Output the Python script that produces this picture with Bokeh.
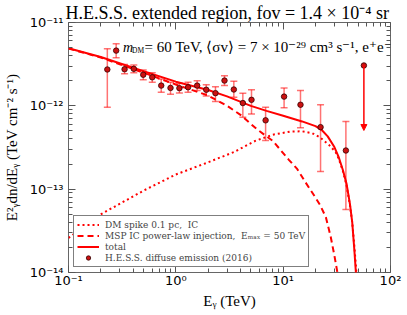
import numpy as np
from bokeh.plotting import figure
from bokeh.models import (ColumnDataSource, Whisker, TeeHead, Arrow, NormalHead, Legend,
                          LegendItem, Label, LogAxis, CustomJSTickFormatter, Range1d, FixedTicker)
from bokeh.embed import file_html
from bokeh.resources import INLINE

# ---------------- data ----------------
dm_e = [0.1, 0.2, 0.5, 1, 2, 3.5, 5.5, 8, 11.5, 15, 18.6, 22, 26.7, 30.8, 33, 36, 39, 42, 44, 46, 48, 50]
dm_y = [2.6e-14, 5.0e-14, 9.6e-14, 1.5e-13, 2.1e-13, 2.8e-13, 3.8e-13, 4.5e-13, 4.9e-13, 4.95e-13,
        4.7e-13, 4.2e-13, 3.4e-13, 2.8e-13, 2.3e-13, 1.65e-13, 1.1e-13, 6.3e-14, 4.0e-14, 2.1e-14,
        1.05e-14, 5e-15]

msp_e = [0.1, 0.2, 0.5, 1, 2, 3, 4, 5.73, 8, 11.3, 13.5, 16.2, 19.3, 22, 25, 27.7, 30, 32, 33.5]
msp_y = [4.87e-12, 3.8e-12, 2.5e-12, 1.8e-12, 1.33e-12, 1.0e-12, 7.8e-13, 5.2e-13, 3.8e-13,
         2.25e-13, 1.75e-13, 1.2e-13, 8.5e-14, 6.5e-14, 4.6e-14, 2.7e-14, 1.6e-14, 1.0e-14, 6e-15]

tot_e = [0.1, 0.2, 0.5, 1, 2, 3, 5, 7, 10, 15, 20, 23, 26, 30, 33, 36, 39, 42, 44, 46, 48, 50]
tot_y = [4.9e-12, 3.85e-12, 2.6e-12, 1.95e-12, 1.55e-12, 1.3e-12, 1.0e-12, 8.7e-13, 7.6e-13,
         6.5e-13, 5.7e-13, 5.1e-13, 4.3e-13, 3.2e-13, 2.4e-13, 1.7e-13, 1.15e-13, 6.5e-14,
         4.0e-14, 1.9e-14, 8.5e-15, 5e-15]

hess_e = [0.23, 0.278, 0.333, 0.406, 0.497, 0.603, 0.731, 0.892, 1.08, 1.30, 1.58, 1.92, 2.34,
          2.84, 3.47, 4.21, 5.07, 6.86, 10.2, 14.5, 22.3, 38.4]
hess_y = [2.73e-12, 4.6e-12, 2.75e-12, 2.78e-12, 2.36e-12, 2.2e-12, 1.75e-12, 1.64e-12, 1.63e-12,
          1.67e-12, 1.75e-12, 1.56e-12, 1.42e-12, 2.01e-12, 1.57e-12, 1.08e-12, 1.18e-12, 6.7e-13,
          1.29e-12, 1.03e-12, 5.55e-13, 2.91e-13]
hess_lo = [9.6e-13, 3.77e-12, 2.42e-12, 2.49e-12, 2.05e-12, 1.92e-12, 1.46e-12, 1.38e-12, 1.43e-12,
           1.46e-12, 1.53e-12, 1.31e-12, 1.13e-12, 1.75e-12, 1.27e-12, 7.3e-13, 8.0e-13, 3.84e-13,
           9.46e-13, 5.45e-13, 1.63e-13, 5.7e-14]
hess_hi = [4.83e-12, 5.55e-12, 3.13e-12, 3.1e-12, 2.7e-12, 2.49e-12, 2.1e-12, 1.92e-12, 1.87e-12,
           1.92e-12, 2.0e-12, 1.79e-12, 1.7e-12, 2.3e-12, 1.97e-12, 1.42e-12, 1.56e-12, 9.6e-13,
           1.64e-12, 1.53e-12, 1.03e-12, 6.5e-13]

ul_e = [56.5]
ul_y = [3.05e-12]
ul_to = [5.06e-13]

x_major = [0.1, 1, 10, 100]
y_major = [1e-14, 1e-13, 1e-12, 1e-11]

title_text = "H.E.S.S. extended region,  fov = 1.4 \u00d7 10\u207b\u2074 sr"
ylabel = "E\u00b2\u1d67dn/dE\u1d67 (TeV cm\u207b\u00b2 s\u207b\u00b9)"
xlabel = "E\u1d67 (TeV)"
leg_labels = ["DM spike 0.1 pc,  IC",
              "MSP IC power-law injection,  E\u2098\u2090\u2093 = 50 TeV",
              "total",
              "H.E.S.S. diffuse emission (2016)"]

# ---------------- figure ----------------
RED = "#ff0000"
SERIF = "Liberation Serif"
SERIF2 = "DejaVu Serif"

p = figure(x_axis_type="log", y_axis_type="log",
           x_range=Range1d(0.1, 100), y_range=Range1d(1e-14, 1e-11),
           frame_width=322, frame_height=250,
           min_border_left=68, min_border_top=22, min_border_right=15, min_border_bottom=41,
           output_backend="svg", toolbar_location=None)
p.grid.visible = False
p.outline_line_color = "#666666"
p.outline_line_width = 1
p.background_fill_color = "white"

p.title.text = title_text
p.title.align = "center"
p.title.text_font = SERIF
p.title.text_font_style = "normal"
p.title.text_font_size = "18px"
p.title.text_color = "black"
p.title.standoff = 0
p.title.offset = 0

def minors(majors):
    return [m * k for m in majors[:-1] for k in range(2, 10)]

xt = FixedTicker(ticks=x_major, minor_ticks=minors(x_major))
yt = FixedTicker(ticks=y_major, minor_ticks=minors(y_major))

fmt = CustomJSTickFormatter(code="""
const e = Math.round(Math.log10(tick));
const m = {'-':'\u207b','0':'\u2070','1':'\u00b9','2':'\u00b2','3':'\u00b3','4':'\u2074',
           '5':'\u2075','6':'\u2076','7':'\u2077','8':'\u2078','9':'\u2079'};
return '10' + String(e).split('').map(c => m[c]).join('');
""")
blank = CustomJSTickFormatter(code="return '';")

def style_axis(ax, ticker, formatter, labels=True):
    ax.ticker = ticker
    ax.formatter = formatter
    ax.axis_line_color = None
    ax.major_tick_in = 7
    ax.major_tick_out = 0
    ax.minor_tick_in = 4
    ax.minor_tick_out = 0
    ax.major_tick_line_color = "#555555"
    ax.minor_tick_line_color = "#555555"
    ax.major_label_text_font = "DejaVu Sans"
    ax.major_label_text_font_size = "13px" if labels else "0px"
    ax.major_label_text_color = "black"

style_axis(p.xaxis[0], xt, fmt)
style_axis(p.yaxis[0], yt, fmt)
p.xaxis.major_label_standoff = 0
p.yaxis.major_label_standoff = 5

p.xaxis.axis_label = xlabel
p.yaxis.axis_label = ylabel
for ax in (p.xaxis[0], p.yaxis[0]):
    ax.axis_label_text_font = SERIF
    ax.axis_label_text_font_style = "normal"
    ax.axis_label_text_font_size = "15px"
    ax.axis_label_text_color = "black"
p.xaxis.axis_label_standoff = 2
p.yaxis.axis_label_standoff = 7

top = LogAxis()
right = LogAxis()
style_axis(top, xt, blank, labels=False)
style_axis(right, yt, blank, labels=False)
top.major_label_standoff = 0
right.major_label_standoff = 0
p.add_layout(top, "above")
p.add_layout(right, "right")

# ---------------- curves ----------------
dm_line = p.line(dm_e, dm_y, line_color=RED, line_width=2, line_dash="2 3")
msp_line = p.line(msp_e, msp_y, line_color=RED, line_width=2, line_dash="6 4")
tot_line = p.line(tot_e, tot_y, line_color=RED, line_width=2)

# ---------------- data points ----------------
src = ColumnDataSource(dict(x=hess_e, y=hess_y, lo=hess_lo, hi=hess_hi))
w = Whisker(source=src, base="x", upper="hi", lower="lo", dimension="height",
            line_color=RED, line_alpha=0.55, line_width=1.5,
            upper_head=TeeHead(size=7, line_color=RED, line_alpha=0.55, line_width=1.5),
            lower_head=TeeHead(size=7, line_color=RED, line_alpha=0.55, line_width=1.5))
p.add_layout(w)

ul_src = ColumnDataSource(dict(x=ul_e, y=ul_y, y1=ul_to))
p.add_layout(Arrow(source=ul_src, x_start="x", y_start="y", x_end="x", y_end="y1",
                   line_color=RED, line_width=1.5,
                   end=NormalHead(size=6, fill_color=RED, line_color=RED)))

pts = p.scatter("x", "y", source=src, marker="circle", size=5.5,
                fill_color="#cc1111", line_color="#330000", line_width=0.8)
p.scatter("x", "y", source=ul_src, marker="circle", size=5.5,
          fill_color="#cc1111", line_color="#330000", line_width=0.8)

# ---------------- legend ----------------
legend = Legend(items=[LegendItem(label=leg_labels[0], renderers=[dm_line]),
                       LegendItem(label=leg_labels[1], renderers=[msp_line]),
                       LegendItem(label=leg_labels[2], renderers=[tot_line]),
                       LegendItem(label=leg_labels[3], renderers=[pts])],
                location="bottom_left", margin=5, padding=3, spacing=0,
                label_text_font=SERIF2, label_text_font_size="9px",
                glyph_width=22, glyph_height=11, label_height=11, label_standoff=6,
                border_line_color="black", border_line_width=1,
                background_fill_color="white", background_fill_alpha=1)
p.add_layout(legend)

# ---------------- texts ----------------
p.add_layout(Label(x=54.5, y=225.5, x_units="screen", y_units="screen", text="m",
                   text_baseline="alphabetic", text_font=SERIF, text_font_style="italic",
                   text_font_size="14px", text_color="black"))
p.add_layout(Label(x=63.5, y=222.5, x_units="screen", y_units="screen", text="DM",
                   text_baseline="alphabetic", text_font=SERIF,
                   text_font_size="7.5px", text_color="black"))
p.add_layout(Label(x=76, y=225.5, x_units="screen", y_units="screen",
                   text="= 60 TeV,  \u27e8\u03c3v\u27e9 = 7 \u00d7 10\u207b\u00b2\u2079 cm\u00b3 s\u207b\u00b9,  e\u207ae\u207b",
                   text_baseline="alphabetic", text_font=SERIF,
                   text_font_size="15px", text_color="black"))

open("out.html", "w").write(file_html(p, INLINE))
